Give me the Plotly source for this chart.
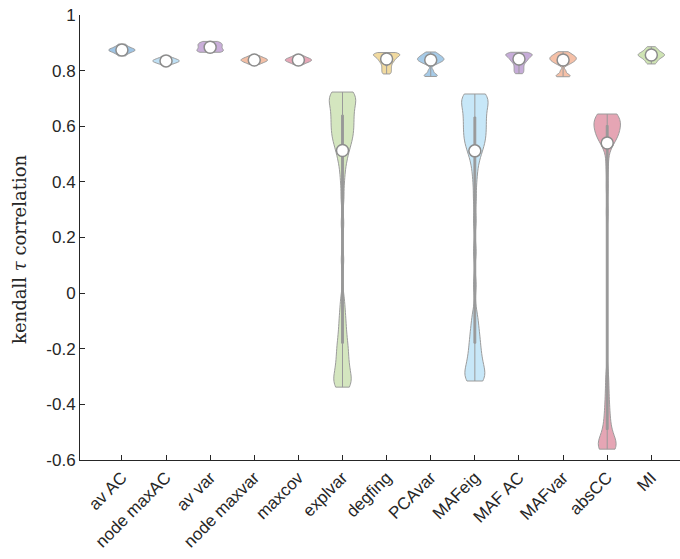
import numpy as np
import plotly.graph_objects as go

categories = ["av AC", "node maxAC", "av var", "node maxvar", "maxcov", "explvar",
              "degfing", "PCAvar", "MAFeig", "MAF AC", "MAFvar", "absCC", "MI"]

av_ac = [0.853, 0.858, 0.863, 0.867, 0.870, 0.872, 0.873, 0.874, 0.875, 0.876, 0.878, 0.881, 0.885, 0.890, 0.895]
node_maxac = [0.821, 0.825, 0.829, 0.831, 0.833, 0.834, 0.835, 0.836, 0.837, 0.839, 0.842, 0.846, 0.849]
av_var = [0.866, 0.867, 0.869, 0.871, 0.874, 0.877, 0.880, 0.884, 0.887, 0.890, 0.893, 0.896, 0.899, 0.902, 0.905]
node_maxvar = [0.822, 0.826, 0.830, 0.833, 0.835, 0.837, 0.838, 0.839, 0.841, 0.843, 0.846, 0.850, 0.854]
maxcov = [0.821, 0.826, 0.830, 0.833, 0.835, 0.837, 0.838, 0.839, 0.841, 0.843, 0.846, 0.850, 0.855]
explvar = [0.723, 0.722, 0.720, 0.717, 0.713, 0.708, 0.702, 0.695, 0.688, 0.680, 0.672, 0.664,
           0.656, 0.648, 0.640, 0.632, 0.624, 0.616, 0.608, 0.600, 0.592, 0.584, 0.576, 0.568,
           0.560, 0.551, 0.542, 0.532, 0.521,
           0.505, 0.490, 0.470, 0.440, 0.400, 0.340, 0.250, 0.120,
           -0.020, -0.060, -0.090, -0.115, -0.140, -0.160, -0.180, -0.195, -0.210, -0.225,
           -0.240, -0.255, -0.268, -0.280, -0.292, -0.303, -0.313, -0.322, -0.330, -0.335, -0.338]
degfing = [0.788, 0.795, 0.802, 0.809, 0.816, 0.823, 0.829, 0.834, 0.838, 0.842, 0.846, 0.849,
           0.852, 0.855, 0.857, 0.859, 0.861, 0.863, 0.865]
pcavar = [0.779, 0.782, 0.786, 0.800, 0.822, 0.828, 0.832, 0.835, 0.838, 0.840, 0.843, 0.846,
          0.849, 0.852, 0.856, 0.861, 0.867]
mafeig = [0.716, 0.715, 0.713, 0.710, 0.706, 0.701, 0.695, 0.688, 0.681, 0.673, 0.665, 0.657,
          0.649, 0.641, 0.633, 0.625, 0.617, 0.609, 0.601, 0.593, 0.585, 0.577, 0.569, 0.561,
          0.553, 0.545, 0.536, 0.527, 0.518,
          0.505, 0.490, 0.470, 0.440, 0.400, 0.340, 0.260, 0.150, 0.030,
          -0.070, -0.100, -0.125, -0.145, -0.163, -0.180, -0.195, -0.210, -0.224, -0.237,
          -0.249, -0.260, -0.270, -0.280, -0.289, -0.297, -0.304, -0.310, -0.314, -0.316]
maf_ac = [0.789, 0.796, 0.803, 0.810, 0.817, 0.824, 0.830, 0.835, 0.838, 0.842, 0.846, 0.849,
          0.852, 0.855, 0.857, 0.859, 0.861, 0.863, 0.866]
mafvar = [0.778, 0.781, 0.785, 0.799, 0.821, 0.827, 0.831, 0.835, 0.838, 0.841, 0.844, 0.847,
          0.850, 0.853, 0.857, 0.862, 0.868]
abscc = [0.644, 0.6435, 0.642, 0.640, 0.637, 0.633, 0.629, 0.625, 0.621, 0.617, 0.613, 0.609,
         0.604, 0.599, 0.594, 0.589, 0.584, 0.579, 0.574, 0.569, 0.564, 0.559, 0.554, 0.549,
         0.545, 0.540,
         0.500, 0.450, 0.380, 0.290,
         -0.290, -0.330, -0.365, -0.395, -0.420, -0.442, -0.462, -0.479, -0.494, -0.507,
         -0.518, -0.527, -0.535, -0.541, -0.546, -0.550, -0.5535, -0.5565, -0.559, -0.5605, -0.561]
mi = [0.824, 0.831, 0.838, 0.843, 0.847, 0.851, 0.854, 0.856, 0.858, 0.861, 0.864, 0.868, 0.873, 0.879, 0.886]

series = [av_ac, node_maxac, av_var, node_maxvar, maxcov, explvar, degfing, pcavar,
          mafeig, maf_ac, mafvar, abscc, mi]

colors = ["#9fc5e5", "#bfe0f4", "#c9aed9", "#f4bfa5", "#e7a7b7", "#d4e6bf", "#f1daa0",
          "#a6cbe8", "#c7e7f8", "#c6acd8", "#f5c0a7", "#e5a5b4", "#cfe4b4"]

small_bw = 0.0065
big_bw = 0.03

fig = go.Figure()
for i, (vals, col) in enumerate(zip(series, colors)):
    rng = max(vals) - min(vals)
    bw = big_bw if rng > 0.3 else small_bw
    fig.add_trace(go.Violin(
        x=[i] * len(vals), y=vals, width=0.6, scalemode="width", spanmode="hard",
        bandwidth=bw, fillcolor=col, opacity=1,
        line=dict(color="#9c9c9c", width=1),
        points=False, box_visible=True, box_width=0.07,
        box_fillcolor="#999999", box_line_color="#999999", box_line_width=1,
        meanline_visible=False, showlegend=False, hoverinfo="skip"))

medians = [float(np.median(v)) for v in series]
fig.add_trace(go.Scatter(
    x=list(range(len(categories))), y=medians, mode="markers",
    marker=dict(size=12, color="white", line=dict(color="#8c8c8c", width=1.5)),
    showlegend=False, hoverinfo="skip"))

ytick_vals = [-0.6, -0.4, -0.2, 0, 0.2, 0.4, 0.6, 0.8, 1]
ytick_text = ["-0.6", "-0.4", "-0.2", "0", "0.2", "0.4", "0.6", "0.8", "1"]

axis_col = "#262626"
fig.update_layout(
    width=680, height=559,
    margin=dict(l=80, r=0, t=15, b=99),
    paper_bgcolor="white", plot_bgcolor="white",
    font=dict(family="Liberation Sans, Arial, sans-serif", size=17, color=axis_col),
    xaxis=dict(range=[-0.95, 12.65], tickvals=list(range(len(categories))), ticktext=categories,
               tickangle=-45, showline=True, linecolor=axis_col, linewidth=1,
               ticks="inside", ticklen=5, tickcolor=axis_col, showgrid=False, zeroline=False,
               tickfont=dict(size=17)),
    yaxis=dict(range=[-0.6, 1], tickvals=ytick_vals, ticktext=ytick_text,
               showline=True, linecolor=axis_col, linewidth=1,
               ticks="inside", ticklen=5, tickcolor=axis_col, showgrid=False, zeroline=False,
               tickfont=dict(size=17)),
    annotations=[dict(text="kendall <i>τ</i> correlation", xref="paper", yref="paper",
                      x=0, y=0.472, xshift=-60, xanchor="center", yanchor="middle",
                      textangle=-90, showarrow=False,
                      font=dict(family="DejaVu Serif, Liberation Serif, serif", size=18, color=axis_col))],
)

fig.write_html("out.html")
